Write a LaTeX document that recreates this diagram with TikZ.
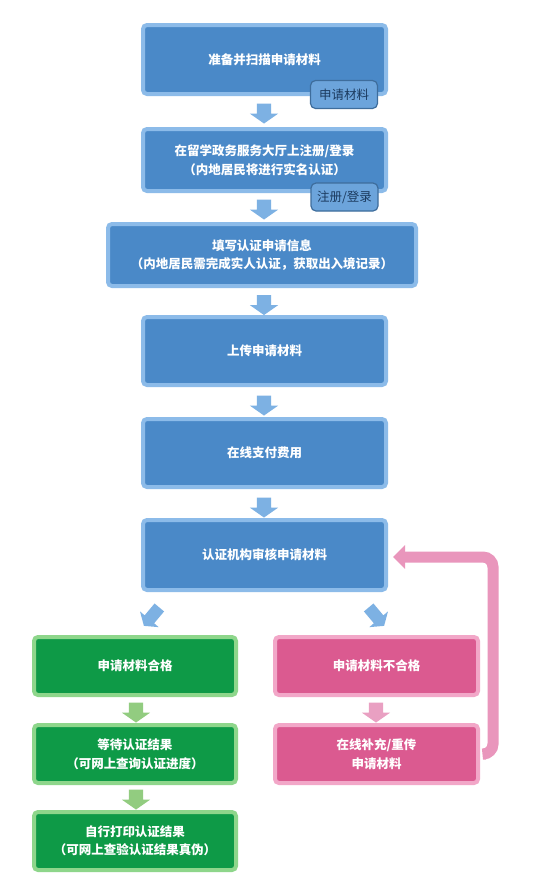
\documentclass[tikz,border=0pt]{standalone}
\usepackage{fontspec}
\newfontfamily\cjk{Noto Sans CJK SC}
\usetikzlibrary{shapes.arrows,arrows.meta,calc}
\definecolor{bfill}{HTML}{4A89C8}
\definecolor{bline}{HTML}{8CBBE9}
\definecolor{barrowc}{HTML}{7DB1E3}
\definecolor{sfill}{HTML}{6CA4DB}
\definecolor{sline}{HTML}{3E6D9C}
\definecolor{stext}{HTML}{1B3A5E}
\definecolor{gfill}{HTML}{0E9A47}
\definecolor{gline}{HTML}{8ED68B}
\definecolor{garrowc}{HTML}{92CC80}
\definecolor{pfill}{HTML}{DB5A90}
\definecolor{pline}{HTML}{F2A7C8}
\definecolor{parrowc}{HTML}{E9A0C2}
\definecolor{fbc}{HTML}{E996BC}
\begin{document}
\begin{tikzpicture}[x=1pt,y=-1pt,
  box/.style={rectangle, rounded corners=4pt, line width=4pt, text=white,
    align=center, font=\cjk\bfseries\fontsize{12.5}{18.5}\selectfont, inner sep=2pt},
  bbox/.style={box, fill=bfill, draw=bline},
  gbox/.style={box, fill=gfill, draw=gline},
  pbox/.style={box, fill=pfill, draw=pline},
  subbox/.style={rectangle, rounded corners=5pt, line width=1.2pt, fill=sfill, draw=sline,
    text=stext, font=\cjk\fontsize{12.5}{14}\selectfont,
    minimum width=67pt, minimum height=28pt, inner sep=1pt},
  blockarrow/.style={single arrow, draw=none, inner xsep=0pt, inner ysep=7pt,
    minimum height=20pt, single arrow head extend=7pt, single arrow tip angle=110},
  fbarrow/.style={draw=fbc, line width=11pt, rounded corners=10pt,
    -{Triangle[width=23pt,length=12pt]}}
]
\useasboundingbox (0,0) rectangle (538,879);
\fill[white] (0,0) rectangle (538,879);

% main column
\node[bbox, minimum width=243pt, minimum height=69pt] (b1) at (264.5,59.5) {准备并扫描申请材料};
\node[subbox] (s1) at (344,94.5) {申请材料};
\node[bbox, minimum width=243pt, minimum height=62pt] (b2) at (264.5,160) {在留学政务服务大厅上注册/登录\\（内地居民将进行实名认证）};
\node[subbox] (s2) at (344.5,197) {注册/登录};
\node[bbox, minimum width=308pt, minimum height=62pt] (b3) at (262,255) {填写认证申请信息\\（内地居民需完成实人认证，获取出入境记录）};
\node[bbox, minimum width=243pt, minimum height=68pt] (b4) at (264.5,351) {上传申请材料};
\node[bbox, minimum width=243pt, minimum height=68pt] (b5) at (264.5,453) {在线支付费用};
\node[bbox, minimum width=243pt, minimum height=70pt] (b6) at (264.5,555) {认证机构审核申请材料};

% branches
\node[gbox, minimum width=202pt, minimum height=58pt] (g1) at (135,666) {申请材料合格};
\node[gbox, minimum width=202pt, minimum height=58pt] (g2) at (135,754) {等待认证结果\\（可网上查询认证进度）};
\node[gbox, minimum width=202pt, minimum height=58pt] (g3) at (135,841) {自行打印认证结果\\（可网上查验认证结果真伪）};
\node[pbox, minimum width=203pt, minimum height=58pt] (p1) at (376.5,666) {申请材料不合格};
\node[pbox, minimum width=203pt, minimum height=58pt] (p2) at (376.5,754) {在线补充/重传\\申请材料};

% block arrows
\node[blockarrow, fill=barrowc, rotate=-90] (a1) at (264,111) {};
\node[blockarrow, fill=barrowc, rotate=-90] (a2) at (264,207) {};
\node[blockarrow, fill=barrowc, rotate=-90] (a3) at (264,302.5) {};
\node[blockarrow, fill=barrowc, rotate=-90] (a4) at (264,403) {};
\node[blockarrow, fill=barrowc, rotate=-90] (a5) at (264,505) {};
\node[blockarrow, fill=barrowc, rotate=-130, minimum height=24pt, inner ysep=6pt, single arrow head extend=6pt] (a6) at (153,615) {};
\node[blockarrow, fill=barrowc, rotate=-50, minimum height=24pt, inner ysep=6pt, single arrow head extend=6pt] (a7) at (375,615) {};
\node[blockarrow, fill=garrowc, rotate=-90] (a8) at (136,710) {};
\node[blockarrow, fill=garrowc, rotate=-90] (a9) at (136,797) {};
\node[blockarrow, fill=parrowc, rotate=-90] (a10) at (376,710) {};

% feedback loop
\coordinate (fbstart) at ($(p2.east)+(6,0)$);
\coordinate (fbbot) at (493,754);
\coordinate (fbtop) at (493,557);
\coordinate (fbend) at ($(b6.east |- fbtop)+(5,0)$);
\draw[fbarrow] (fbstart) -- (fbbot) -- (fbtop) -- (fbend);
\end{tikzpicture}
\end{document}
